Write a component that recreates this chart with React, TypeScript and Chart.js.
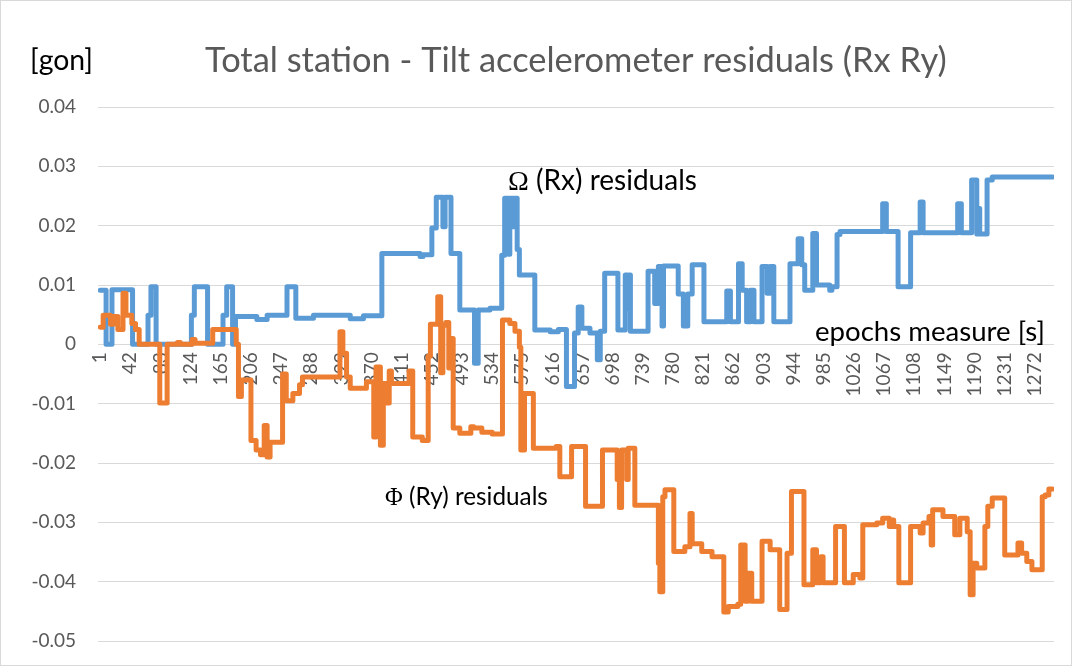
import React, { useEffect, useRef } from 'react';
import { Chart, registerables } from 'chart.js';

Chart.register(...registerables);

// ---- texts ----
const chartTitle = 'Total station - Tilt accelerometer residuals (Rx Ry)';
const yUnitLabel = '[gon]';
const xAxisName = 'epochs measure [s]';
const rxSymbol = 'Ω';
const rxLabel = ' (Rx) residuals';
const rySymbol = 'Φ';
const ryLabel = ' (Ry) residuals';

// ---- axes ----
const xTickLabels = [1, 42, 83, 124, 165, 206, 247, 288, 329, 370, 411, 452, 493, 534, 575, 616, 657, 698, 739, 780, 821, 862, 903, 944, 985, 1026, 1067, 1108, 1149, 1190, 1231, 1272];
const yTickValues = [0.04, 0.03, 0.02, 0.01, 0, -0.01, -0.02, -0.03, -0.04, -0.05];
const lastEpoch = 1296;

// ---- Ω (Rx) residuals: epoch where a level starts, and the level ----
const rxStart = [1, 9, 17, 45, 66, 70, 77, 125, 129, 147, 168, 173, 181, 185, 214, 228, 255, 267, 291, 341, 359, 384, 436, 440, 452, 458, 467, 470, 478, 490, 510, 515, 531, 547, 551, 556, 558, 562, 564, 568, 571, 592, 613, 624, 635, 646, 651, 656, 667, 677, 681, 687, 705, 715, 718, 720, 722, 746, 755, 760, 765, 767, 787, 794, 800, 806, 822, 853, 858, 869, 874, 880, 885, 890, 901, 908, 912, 917, 939, 950, 955, 959, 970, 975, 993, 996, 1003, 1007, 1065, 1070, 1086, 1103, 1116, 1120, 1167, 1172, 1186, 1193, 1195, 1197, 1207, 1214];
const rxValue = [0.0091, 0, 0.0092, 0, 0.0049, 0.0097, 0, 0.0049, 0.0097, 0, 0.0049, 0.0097, 0, 0.0047, 0.0042, 0.0049, 0.0097, 0.0044, 0.0049, 0.0043, 0.0048, 0.0153, 0.0148, 0.0151, 0.0196, 0.0248, 0.0198, 0.0248, 0.0153, 0.0058, -0.0032, 0.0058, 0.0061, 0.0150, 0.0246, 0.0152, 0.0246, 0.0198, 0.0246, 0.0160, 0.0117, 0.0024, 0.0021, 0.0025, -0.0071, 0.0019, 0.0063, 0.0027, 0.0019, -0.0026, 0.0022, 0.0120, 0.0024, 0.0117, 0.0060, 0.0117, 0.0022, 0.0123, 0.0069, 0.0131, 0.0031, 0.0132, 0.0085, 0.0031, 0.0085, 0.0134, 0.0038, 0.0090, 0.0038, 0.0136, 0.0091, 0.0038, 0.0091, 0.0038, 0.0131, 0.0086, 0.0131, 0.0038, 0.0136, 0.0178, 0.0134, 0.0091, 0.0187, 0.0100, 0.0091, 0.0097, 0.0185, 0.0190, 0.0237, 0.0190, 0.0097, 0.0188, 0.0240, 0.0188, 0.0237, 0.0188, 0.0277, 0.0186, 0.0229, 0.0186, 0.0277, 0.0282];

// ---- Φ (Ry) residuals ----
const ryStart = [1, 5, 15, 19, 25, 32, 36, 44, 49, 54, 82, 92, 106, 110, 126, 130, 154, 186, 189, 193, 206, 213, 219, 224, 228, 232, 249, 254, 263, 272, 276, 327, 331, 336, 341, 363, 373, 376, 382, 386, 390, 394, 397, 421, 426, 439, 447, 450, 460, 464, 467, 471, 475, 478, 481, 490, 505, 509, 520, 534, 548, 558, 565, 571, 573, 578, 590, 621, 626, 642, 661, 684, 704, 707, 710, 717, 719, 728, 760, 762, 766, 769, 781, 796, 803, 806, 819, 833, 849, 855, 868, 872, 878, 882, 887, 901, 912, 925, 935, 941, 958, 970, 975, 981, 984, 1001, 1013, 1025, 1034, 1038, 1057, 1065, 1074, 1078, 1080, 1087, 1103, 1116, 1120, 1128, 1131, 1133, 1147, 1163, 1170, 1180, 1184, 1188, 1193, 1204, 1208, 1214, 1231, 1249, 1254, 1261, 1268, 1282, 1286, 1291];
const ryValue = [0.0029, 0.0049, 0.0034, 0.0047, 0.0025, 0.0086, 0.0049, 0.0035, 0.0025, 0, -0.0099, 0, 0.0003, 0, 0.0008, 0.0002, 0.0025, 0, -0.0088, -0.0060, -0.0162, -0.0178, -0.0186, -0.0137, -0.0190, -0.0165, -0.0050, -0.0095, -0.0083, -0.0068, -0.0055, 0.0021, -0.0015, -0.0055, -0.0074, -0.0063, -0.0156, -0.0038, -0.0170, -0.0066, -0.0099, -0.0045, -0.0066, -0.0045, -0.0156, -0.0162, -0.0020, 0.0034, 0.0080, -0.0048, 0.0032, 0.0037, -0.0040, 0.0010, -0.0141, -0.0150, -0.0139, -0.0141, -0.0148, -0.0151, 0.0041, 0.0035, 0.0022, -0.0005, -0.0178, -0.0083, -0.0175, -0.0172, -0.0223, -0.0172, -0.0273, -0.0178, -0.0228, -0.0275, -0.0178, -0.0228, -0.0175, -0.0271, -0.0369, -0.0417, -0.0257, -0.0245, -0.0349, -0.0341, -0.0285, -0.0336, -0.0349, -0.0358, -0.0451, -0.0442, -0.0438, -0.0338, -0.0433, -0.0386, -0.0433, -0.0332, -0.0346, -0.0447, -0.0352, -0.0248, -0.0405, -0.0346, -0.0402, -0.0358, -0.0402, -0.0307, -0.0402, -0.0388, -0.0394, -0.0304, -0.0301, -0.0293, -0.0307, -0.0296, -0.0307, -0.0402, -0.0307, -0.0318, -0.0301, -0.0290, -0.0338, -0.0279, -0.0290, -0.0321, -0.0293, -0.0316, -0.0422, -0.0369, -0.0377, -0.0307, -0.0273, -0.0259, -0.0355, -0.0335, -0.0352, -0.0366, -0.0380, -0.0257, -0.0254, -0.0244];

const toPoints = (starts: number[], values: number[]) => {
  const pts = starts.map((s, i) => ({ x: s, y: values[i] }));
  pts.push({ x: lastEpoch, y: values[values.length - 1] });
  return pts;
};

type Part = { text: string; family: string };
const drawFitted = (ctx: CanvasRenderingContext2D, parts: Part[], left: number, baseline: number, width: number, color: string) => {
  let total = 0;
  parts.forEach((p) => {
    ctx.font = `100px ${p.family}`;
    total += ctx.measureText(p.text).width;
  });
  const size = (100 * width) / total;
  let x = left;
  ctx.fillStyle = color;
  ctx.textAlign = 'left';
  ctx.textBaseline = 'alphabetic';
  parts.forEach((p) => {
    ctx.font = `${size}px ${p.family}`;
    ctx.fillText(p.text, x, baseline);
    x += ctx.measureText(p.text).width;
  });
};

const SANS = 'Lato, "Open Sans", sans-serif';
const SERIF = '"Liberation Serif", "DejaVu Serif", serif';

const decorPlugin = {
  id: 'decor',
  beforeDraw(chart: any) {
    const ctx = chart.ctx as CanvasRenderingContext2D;
    ctx.save();
    ctx.fillStyle = '#ffffff';
    ctx.fillRect(0, 0, chart.width, chart.height);
    ctx.strokeStyle = '#d9d9d9';
    ctx.lineWidth = 1;
    ctx.strokeRect(0.5, 0.5, chart.width - 1, chart.height - 1);
    ctx.restore();
  },
  afterDraw(chart: any) {
    const ctx = chart.ctx as CanvasRenderingContext2D;
    ctx.save();
    drawFitted(ctx, [{ text: chartTitle, family: SANS }], 205, 72, 742, '#595959');
    drawFitted(ctx, [{ text: yUnitLabel, family: SANS }], 30, 70, 63, '#000000');
    drawFitted(ctx, [{ text: rxSymbol, family: SERIF }, { text: rxLabel, family: SANS }], 508, 190, 189, '#000000');
    drawFitted(ctx, [{ text: rySymbol, family: SERIF }, { text: ryLabel, family: SANS }], 385, 505, 163, '#000000');
    drawFitted(ctx, [{ text: xAxisName, family: SANS }], 815, 341, 230, '#000000');
    ctx.restore();
  },
};

export default function App() {
  const ref = useRef<HTMLCanvasElement>(null);

  useEffect(() => {
    const canvas = ref.current;
    if (!canvas) return;
    const chart = new Chart(canvas, {
      type: 'line',
      data: {
        datasets: [
          {
            label: 'Φ (Ry) residuals',
            data: toPoints(ryStart, ryValue),
            borderColor: '#ED7D31',
            backgroundColor: '#ED7D31',
            borderWidth: 5,
            pointRadius: 0,
            stepped: 'before',
            borderJoinStyle: 'round',
            borderCapStyle: 'round',
            order: 0,
          },
          {
            label: 'Ω (Rx) residuals',
            data: toPoints(rxStart, rxValue),
            borderColor: '#5B9BD5',
            backgroundColor: '#5B9BD5',
            borderWidth: 5,
            pointRadius: 0,
            stepped: 'before',
            borderJoinStyle: 'round',
            borderCapStyle: 'round',
            order: 1,
          },
        ],
      },
      options: {
        responsive: false,
        animation: false,
        devicePixelRatio: 1,
        parsing: false,
        normalized: true,
        layout: { padding: { left: 0, right: 18, top: 107, bottom: 25 } },
        plugins: {
          legend: { display: false },
          title: { display: false },
          tooltip: { enabled: false },
        },
        scales: {
          x: {
            type: 'linear',
            position: { y: 0 },
            min: -2,
            max: 1298,
            afterBuildTicks: (axis: any) => {
              axis.ticks = xTickLabels.map((v) => ({ value: v }));
            },
            afterFit: (axis: any) => {
              axis.paddingLeft = 0;
              axis.paddingRight = 0;
            },
            grid: { display: false, drawTicks: false },
            border: { display: false },
            ticks: {
              autoSkip: false,
              minRotation: 90,
              maxRotation: 90,
              padding: 8,
              color: '#595959',
              font: { family: SANS, size: 19 },
              callback: (v: any) => String(v),
            },
          },
          y: {
            type: 'linear',
            min: Math.min(...yTickValues),
            max: Math.max(...yTickValues),
            afterBuildTicks: (axis: any) => {
              axis.ticks = yTickValues.map((v) => ({ value: v }));
            },
            afterFit: (axis: any) => {
              axis.width = 98;
              axis.paddingTop = 0;
              axis.paddingBottom = 0;
            },
            grid: { color: '#d9d9d9', lineWidth: 1, drawTicks: false },
            border: { display: false },
            ticks: {
              padding: 22,
              color: '#595959',
              font: { family: SANS, size: 19 },
              callback: (v: any) => (Math.abs(Number(v)) < 1e-9 ? '0' : Number(v).toFixed(2)),
            },
          },
        },
      },
      plugins: [decorPlugin],
    } as any);
    return () => chart.destroy();
  }, []);

  return (
    <div style={{ position: 'fixed', left: 0, top: 0, width: 1072, height: 666, background: '#ffffff' }}>
      <canvas ref={ref} width={1072} height={666} style={{ display: 'block', width: 1072, height: 666 }} />
    </div>
  );
}
